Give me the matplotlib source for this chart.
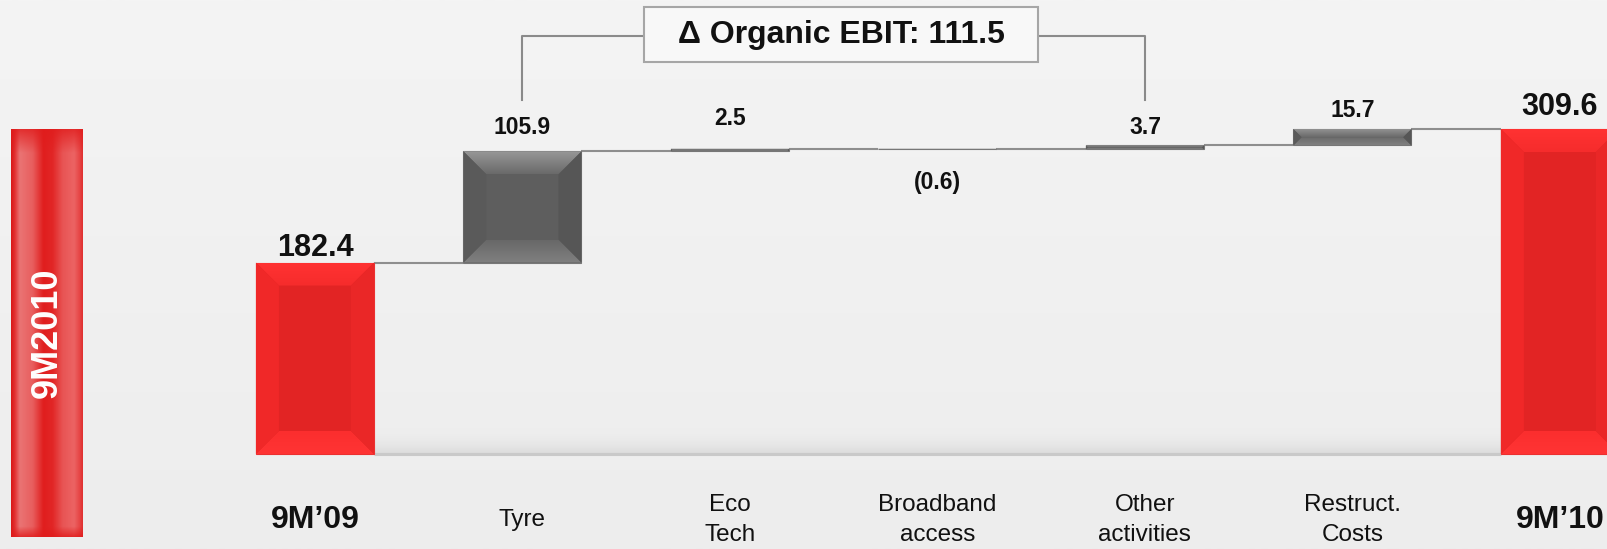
import numpy as np
import matplotlib
matplotlib.use("Agg")
import matplotlib.pyplot as plt
from matplotlib.patches import Polygon, Rectangle
from matplotlib.colors import LinearSegmentedColormap, to_rgb

plt.rcParams["font.family"] = ["Liberation Sans", "DejaVu Sans"]

# ---- data -------------------------------------------------------------
categories = ["9M’09", "Tyre", "Eco\nTech", "Broadband\naccess",
              "Other\nactivities", "Restruct.\nCosts", "9M’10"]
start_value = 182.4
deltas = [105.9, 2.5, -0.6, 3.7, 15.7]
end_value = 309.6
organic_items = 4          # Tyre .. Other activities
period_tag = "9M2010"

# ---- derived waterfall geometry ---------------------------------------
n = len(categories)
bottoms, heights, labels = [], [], []
bottoms.append(0.0); heights.append(start_value); labels.append(f"{start_value:.1f}")
running = start_value
for d in deltas:
    lo = running if d >= 0 else running + d
    bottoms.append(lo); heights.append(abs(d))
    labels.append(f"{d:.1f}" if d >= 0 else f"({abs(d):.1f})")
    running += d
bottoms.append(0.0); heights.append(end_value); labels.append(f"{end_value:.1f}")
organic = sum(deltas[:organic_items])

# ---- figure -----------------------------------------------------------
W, H, DPI = 1607, 549, 100
fig = plt.figure(figsize=(W / DPI, H / DPI), dpi=DPI)

# soft grey backdrop
bg = fig.add_axes([0, 0, 1, 1], zorder=-5)
bg.imshow(np.linspace(0, 1, 256)[:, None],
          cmap=LinearSegmentedColormap.from_list("bg", ["#f4f4f4", "#ededed"]),
          aspect="auto", extent=(0, 1, 0, 1), origin="upper")
bg.set_axis_off()

ax = fig.add_axes([0, 0, 1, 1])
ax.patch.set_alpha(0)
ax.set_xlim(-1.518, 6.227)
ax.set_ylim(-90.5, 432.5)
ax.set_autoscale_on(False)
ax.set_axis_off()

x_px = W / (6.227 + 1.518)           # pixels per x unit
y_px = H / (432.5 + 90.5)            # pixels per y unit

bar_w = 0.569
xpos = np.arange(n)


def grad_poly(verts, c_top, c_bot, z):
    poly = Polygon(verts, closed=True, facecolor="none", edgecolor="none")
    ax.add_patch(poly)
    xs = [v[0] for v in verts]; ys = [v[1] for v in verts]
    if max(ys) - min(ys) <= 0 or max(xs) - min(xs) <= 0:
        return
    cmap = LinearSegmentedColormap.from_list("g", [c_top, c_bot])
    im = ax.imshow(np.linspace(0, 1, 64)[:, None], cmap=cmap,
                   extent=(min(xs), max(xs), min(ys), max(ys)),
                   origin="upper", aspect="auto", zorder=z,
                   interpolation="bicubic")
    im.set_clip_path(poly)


is_total = [True] + [False] * len(deltas) + [True]
face = ["#e22424" if t else "#5e5e5e" for t in is_total]
bars = ax.bar(xpos, heights, bottom=bottoms, width=bar_w, color=face,
              edgecolor=["#ec3030" if t else "#777777" for t in is_total],
              linewidth=0.8, zorder=3)

# bevelled faces on every bar
for b, tot in zip(bars, is_total):
    x0, y0 = b.get_x(), b.get_y()
    x1, y1 = x0 + b.get_width(), y0 + b.get_height()
    h_pix = b.get_height() * y_px
    w_pix = b.get_width() * x_px
    bev = min(23.0, h_pix / 2, w_pix / 2)
    bx, by = bev / x_px, bev / y_px
    top = [(x0, y1), (x1, y1), (x1 - bx, y1 - by), (x0 + bx, y1 - by)]
    bot = [(x0, y0), (x1, y0), (x1 - bx, y0 + by), (x0 + bx, y0 + by)]
    lft = [(x0, y0), (x0 + bx, y0 + by), (x0 + bx, y1 - by), (x0, y1)]
    rgt = [(x1, y0), (x1 - bx, y0 + by), (x1 - bx, y1 - by), (x1, y1)]
    if tot:
        grad_poly(top, "#ff3232", "#f62c2c", 4)
        grad_poly(bot, "#fb2e2e", "#ff3434", 4)
        ax.add_patch(Polygon(lft, closed=True, fc="#f02828", ec="none", zorder=4))
        ax.add_patch(Polygon(rgt, closed=True, fc="#ea2727", ec="none", zorder=4))
    else:
        grad_poly(top, "#979797", "#6a6a6a", 4)
        grad_poly(bot, "#686868", "#808080", 4)
        ax.add_patch(Polygon(lft, closed=True, fc="#5a5a5a", ec="none", zorder=4))
        ax.add_patch(Polygon(rgt, closed=True, fc="#565656", ec="none", zorder=4))

# connectors between consecutive bars at the running total
levels = [start_value]
run = start_value
for d in deltas:
    run += d
    levels.append(run)
for i, lvl in enumerate(levels):
    ax.plot([i + bar_w / 2, i + 1 - bar_w / 2], [lvl, lvl],
            color="#8e8e8e", lw=1.5, zorder=2, solid_capstyle="butt")

# floor line with a faint shadow band above it
ax.imshow(np.linspace(0, 1, 64)[:, None],
          cmap=LinearSegmentedColormap.from_list(
              "fl", [(0.93, 0.93, 0.93, 0.0), (0.80, 0.80, 0.80, 0.55)]),
          extent=(bar_w / 2, n - 1 - bar_w / 2, 0, 26 / y_px),
          origin="upper", aspect="auto", zorder=1)
ax.plot([bar_w / 2, n - 1 - bar_w / 2], [0, 0], color="#c9c9c9", lw=2.2,
        zorder=1.5, solid_capstyle="butt")

# value labels (pixel offsets from the bar edge)
label_off = [7, 17, 24, -22, 11, 12, 14]
for i, (b, lab) in enumerate(zip(bars, labels)):
    big = is_total[i]
    if label_off[i] >= 0:
        yv = b.get_y() + b.get_height()
        ax.annotate(lab, (i, yv), xytext=(0, label_off[i] * 72 / DPI),
                    textcoords="offset points", ha="center", va="baseline",
                    fontsize=22 if big else 16.5, fontweight="bold",
                    color="#111111", zorder=6)
    else:
        yv = b.get_y()
        ax.annotate(lab, (i, yv), xytext=(0, label_off[i] * 72 / DPI),
                    textcoords="offset points", ha="center", va="top",
                    fontsize=16.5, fontweight="bold", color="#111111", zorder=6)

# category labels
ylab = 29 / H
for i, cat in enumerate(categories):
    ax.text(i, ylab, cat, transform=ax.get_xaxis_transform(),
            ha="center", va="center", linespacing=1.45,
            fontsize=23 if is_total[i] else 17.5,
            fontweight="bold" if is_total[i] else "normal",
            color="#111111")

# bracket over the organic items with the summary box
y_br_low = (H - 100 - 95) / y_px
y_br_top = (H - 36 - 95) / y_px
box_l, box_r = (644 - 315) / x_px, (1038 - 315) / x_px
box_b, box_t = (H - 62 - 95) / y_px, (H - 7 - 95) / y_px
ax.plot([1, 1, box_l], [y_br_low, y_br_top, y_br_top], color="#8a8a8a",
        lw=1.5, zorder=2)
ax.plot([organic_items, organic_items, box_r], [y_br_low, y_br_top, y_br_top],
        color="#8a8a8a", lw=1.5, zorder=2)
ax.add_patch(Rectangle((box_l, box_b), box_r - box_l, box_t - box_b,
                       fc="#f8f8f8", ec="#a6a6a6", lw=1.5, zorder=5))
ax.text((box_l + box_r) / 2, (box_b + box_t) / 2,
        f"Δ Organic EBIT: {organic:.1f}", ha="center", va="center",
        fontsize=23, fontweight="bold", color="#111111", zorder=6)

# red period tab on the left
tab = fig.add_axes([11 / W, (H - 537) / H, 72 / W, 408 / H], zorder=2)
stops = [0.0, 0.05, 0.12, 0.30, 0.45, 0.58, 0.72, 0.88, 0.96, 1.0]
cols = ["#d81818", "#e23030", "#ea7474", "#e85e5e", "#e01e1e",
        "#e22626", "#e85454", "#ec6464", "#e64444", "#e03030"]
prof = np.array([to_rgb(c) for c in cols])
xs = np.linspace(0, 1, 144)
row = np.stack([np.interp(xs, stops, prof[:, k]) for k in range(3)], axis=1)
ys = np.linspace(0, 1, 408)
rim = np.clip(np.maximum((0.06 - ys) / 0.06, (ys - 0.975) / 0.025), 0, 1)
base = np.array(to_rgb("#e01c1c"))
img = row[None, :, :] * (1 - rim[:, None, None] * 0.8) + base * rim[:, None, None] * 0.8
tab.imshow(img, aspect="auto", extent=(0, 1, 0, 1), origin="upper",
           interpolation="bilinear")
tab.text(0.5, 0.5, period_tag, rotation=90, ha="center", va="center",
         color="white", fontsize=26, fontweight="bold", transform=tab.transAxes)
tab.set_axis_off()

fig.savefig("out.png", dpi=DPI)
